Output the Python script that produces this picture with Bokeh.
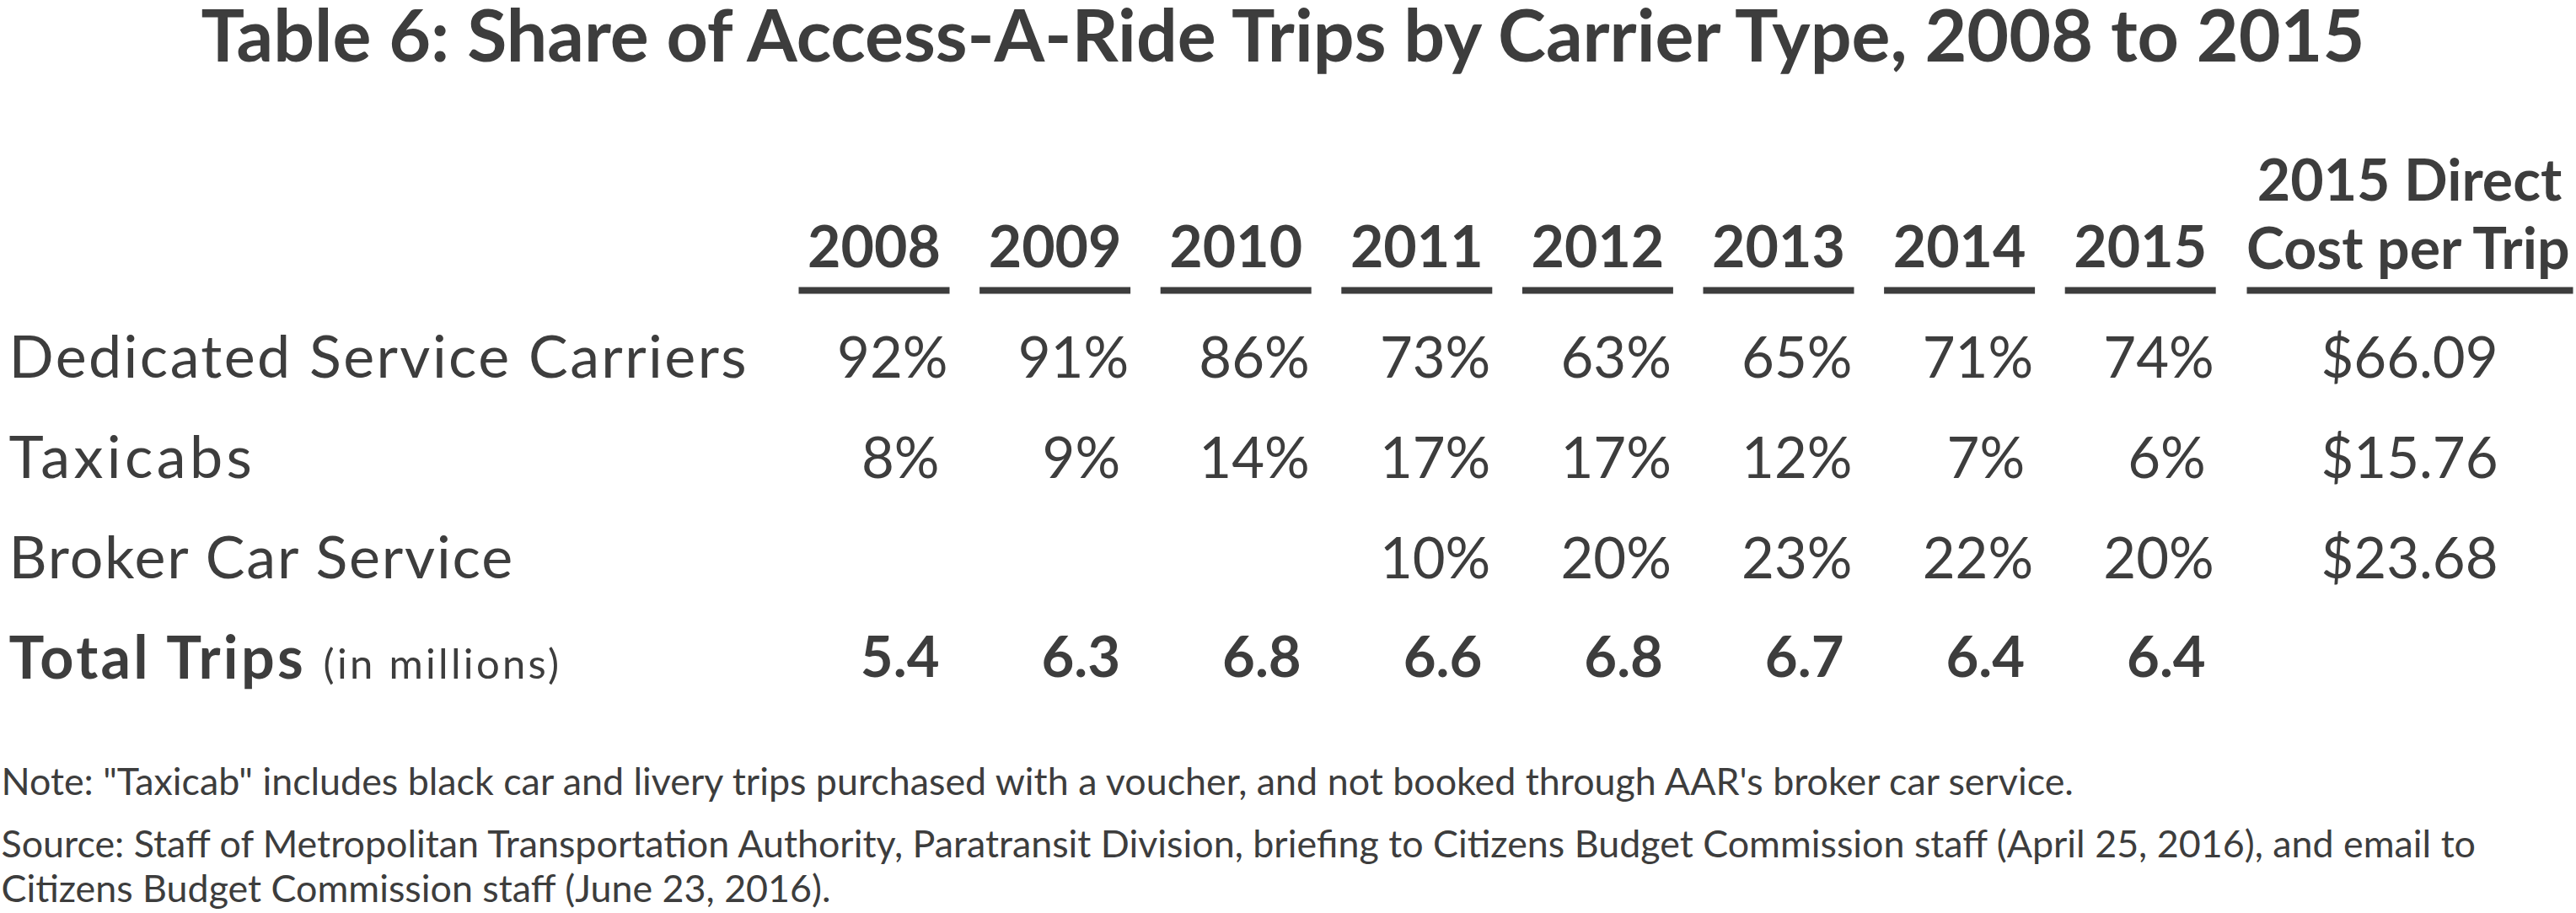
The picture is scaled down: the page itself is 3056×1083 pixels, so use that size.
from bokeh.plotting import figure
from bokeh.models import Range1d, ColumnDataSource, InlineStyleSheet
from bokeh.layouts import column, row
from bokeh.core.properties import value
from bokeh.embed import file_html
from bokeh.resources import INLINE

# ---------------- data ----------------
title = "Table 6: Share of Access-A-Ride Trips by Carrier Type, 2008 to 2015"
years = ["2008", "2009", "2010", "2011", "2012", "2013", "2014", "2015"]
row_labels = ["Dedicated Service Carriers", "Taxicabs", "Broker Car Service"]
dedicated = [92, 91, 86, 73, 63, 65, 71, 74]
taxicabs = [8, 9, 14, 17, 17, 12, 7, 6]
broker = [None, None, None, 10, 20, 23, 22, 20]
total_trips = [5.4, 6.3, 6.8, 6.6, 6.8, 6.7, 6.4, 6.4]
cost_per_trip = [66.09, 15.76, 23.68]
cost_header = ["2015 Direct", "Cost per Trip"]
total_label = "Total Trips"
total_unit = "(in millions)"
note = "Note: \"Taxicab\" includes black car and livery trips purchased with a voucher, and not booked through AAR's broker car service."
source = ["Source: Staff of Metropolitan Transportation Authority, Paratransit Division, briefing to Citizens Budget Commission staff (April 25, 2016), and email to",
          "Citizens Budget Commission staff (June 23, 2016)."]

# ---------------- layout / style ----------------
W, H = 3056, 1083
FONT = "Lato"
INK = "#3d3d3d"
K = 0.40                      # baseline correction (fraction of font size)
col_left0, col_pitch, col_w = 947, 214.6, 179
cost_left, cost_right = 2665, 3052
cost_c = 2858
row_base = [448, 567, 686, 805]
header_base = 319
ul_y = 344
TOP_H = 370
MID_H = 480
LAB_W = 935
ROW_H = MID_H // 4


def make_fig(x0, y0, w, h, spacing=None):
    kw = {}
    if spacing is not None:
        kw["stylesheets"] = [InlineStyleSheet(css=f":host {{ letter-spacing: {spacing}px; }}")]
    f = figure(width=w, height=h, output_backend="svg", toolbar_location=None,
               x_range=Range1d(x0, x0 + w), y_range=Range1d(y0 + h, y0),
               x_axis_type=None, y_axis_type=None, min_border=0,
               background_fill_color="white", border_fill_color="white", **kw)
    f.outline_line_color = None
    f.xgrid.visible = False
    f.ygrid.visible = False
    return f


def txt(f, x, y, s, size, bold=False, align="left"):
    src = ColumnDataSource(dict(x=x, y=[v - K * size for v in y], t=s))
    f.text(x="x", y="y", text="t", source=src, text_font=value(FONT),
           text_font_size=value(f"{size}px"),
           text_font_style="bold" if bold else "normal",
           text_color=INK, text_align=align, text_baseline="alphabetic")


# ---- top: title, column headers, underlines
top = make_fig(0, 0, W, TOP_H)
txt(top, [238], [73], [title], 86, bold=True, align="left")
lefts = [col_left0 + i * col_pitch for i in range(len(years))]
rights = [l + col_w for l in lefts]
centers = [l + col_w / 2 for l in lefts]
txt(top, centers, [header_base] * len(years), years, 68, bold=True, align="center")
txt(top, [cost_c, cost_c], [238, header_base], cost_header, 68, bold=True, align="center")
top.segment(x0=lefts + [cost_left], x1=rights + [cost_right],
            y0=[ul_y] * (len(years) + 1), y1=[ul_y] * (len(years) + 1),
            line_color=INK, line_width=8)

# ---- row labels (each its own strip, with its own letter spacing)
spacings = [2.4, 4.4, 1.8, 3.3]
label_figs = []
for i in range(4):
    y0 = TOP_H + i * ROW_H
    f = make_fig(0, y0, LAB_W, ROW_H, spacing=spacings[i])
    if i < 3:
        txt(f, [10], [row_base[i]], [row_labels[i]], 70)
    else:
        txt(f, [10], [row_base[3]], [total_label], 70, bold=True)
        txt(f, [383], [row_base[3]], [total_unit], 49)
    label_figs.append(f)

# ---- values
vals = make_fig(LAB_W, TOP_H, W - LAB_W, MID_H)


def cells(vs, y, fmt, bold=False):
    xs, ys, ss = [], [], []
    for i, v in enumerate(vs):
        if v is None:
            continue
        s = fmt(v)
        shift = 2 if (len(s) >= 3 and s.endswith("%")) else 12
        xs.append(rights[i] - shift)
        ys.append(y)
        ss.append(s)
    txt(vals, xs, ys, ss, 67, bold=bold, align="right")


cells(dedicated, row_base[0], lambda v: f"{v}%")
cells(taxicabs, row_base[1], lambda v: f"{v}%")
cells(broker, row_base[2], lambda v: f"{v}%")
cells(total_trips, row_base[3], lambda v: f"{v:.1f}", bold=True)
txt(vals, [cost_c] * 3, row_base[:3], [f"${c:.2f}" for c in cost_per_trip], 67, align="center")

# ---- notes
notes = make_fig(0, TOP_H + MID_H, W, H - TOP_H - MID_H)
txt(notes, [1], [943], [note], 44.8)
txt(notes, [1, 1], [1017, 1070], source, 44.8)

layout = column(top, row(column(*label_figs), vals), notes)
open("out.html", "w").write(file_html(layout, INLINE))
